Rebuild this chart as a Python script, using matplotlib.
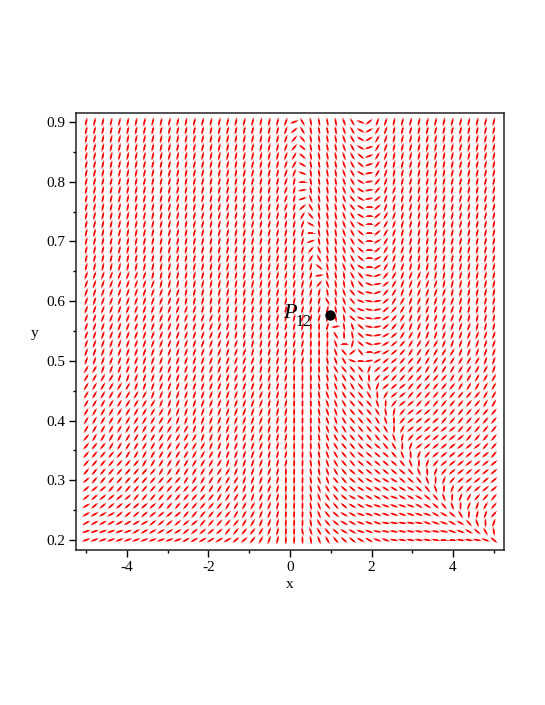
import numpy as np
import matplotlib
matplotlib.use("Agg")
import matplotlib.pyplot as plt
from matplotlib.collections import LineCollection
from matplotlib.ticker import MultipleLocator

plt.rcParams['font.family'] = ['Liberation Serif', 'DejaVu Serif']
plt.rcParams['axes.unicode_minus'] = False

# slope of each segment, one string per row, top row first
# digits rise, letters fall (see CODE_ANGLES)
ROWS = [
    "8888888888 8888888888 888872fhhh hgfb477888 8888888888",
    "8888888888 8888888888 888874fhhh hgfc367888 8888888888",
    "8888888888 8888888888 888875ehhh hgfc367888 8888888888",
    "8888888888 8888888888 888875dhhh hgfc267888 8888888888",
    "8888888888 8888888888 888876dhhh hgfd267888 8888888888",
    "8888888888 8888888888 888876chhh hgfd267888 8888888888",
    "8888888888 8888888888 888877bhhh hgfc167888 8888888888",
    "8888888888 8888888888 8888780hhh hgfc157888 8888888888",
    "8888888888 8888888888 8888781hhh hgfc157788 8888888888",
    "8888888888 8888888888 8888782ghh hgec147788 8888888888",
    "8888888888 8888888888 8888784fhh hgec047888 8888888888",
    "8888888888 8888888888 8888886ehh hgfc046788 8888888888",
    "8888888888 8888888888 8888887chh hgfc046788 8888888888",
    "8888888888 8888888888 88888880hh hgfd046788 8888888888",
    "8888888888 8888888888 88888882hh hgfd036788 8888888888",
    "8888888888 8888888888 88888885gh hgfd046778 8888888888",
    "8888888888 8888888888 88888886fh hgfd036778 8888888888",
    "8888888888 8888888888 88888888dh hgfc036778 8888888888",
    "7777777788 8888888888 888888881h hhfea25677 7788888888",
    "7777777778 8888888888 888888885g hhgeb14677 7778888888",
    "7777777777 7788888888 888888888h hgeca25677 7777888888",
    "7777777777 7788888888 888888888f hgeba14667 7777788888",
    "7777777777 7777888888 8888888888 hgdba14567 7777788888",
    "7777777777 7777778888 8888888888 hhdba13567 7777778888",
    "7777777777 7777777888 8888888998 1hgda14567 7777777888",
    "7777777777 7777777788 8888888999 fihda13466 7777777777",
    "7777777777 7777777778 8888888999 g08db13456 6667777777",
    "7777777777 7777777777 888888899i ge4e023456 6666677777",
    "7777777777 7777777777 788888899h gfb0134455 6666666677",
    "6677777777 7777777777 78888999ih feee744555 5666666667",
    "6666777777 7777777777 7888899ihh gfefi54555 5555666666",
    "6666667777 7777777777 7788899ihh gffeg74445 5555566666",
    "6666666677 7777777777 7788899ihg gfeefi6445 5555555566",
    "6666666667 7777777777 7788899ihg gfeeeg9544 5555555566",
    "6666666666 7777777777 7788899ihg gfeeefh854 4455555555",
    "6666666666 6777777777 7788899ihg gfeeefg954 4445555555",
    "6666666666 6667777777 7788899ihg ffeeeef964 4444455555",
    "5666666666 6666777777 7788899ihg feeeeeeg85 4444445555",
    "5556666666 6666677777 7788899ihg feeeddef97 4444444455",
    "5555566666 6666667777 7788899hhg feeddddegi 7544444445",
    "5555555666 6666666777 7788899hhg feedddddeg 9754444444",
    "5555555556 6666666677 7778999hhg feddddddde gi75444444",
    "4555555555 5566666667 7778999hgg eeddccccdd eg97544444",
    "4445555555 5555666667 7778999hgf eddccccccc deg9755444",
    "4444445555 5555556666 7778999hgf edcccccbcc cdeg976555",
    "3444444445 5555555666 6778999hge edccbbbbbb ccdeg97765",
    "3333444444 4455555566 6778999hge dccbbbbbbb bbccdf9875",
    "3333333344 4444555556 6778999hfe dccbbbaaaa abbbccegi7",
    "2222223333 3344444555 567899hgfe dccbbaaaaa aaaabbcdfh",
    "2222222222 2233333344 567899ihgf eddccbbaaa aaa00aaabd",
]

X_TICKS = [-4, -2, 0, 2, 4]
Y_TICKS = [0.2, 0.3, 0.4, 0.5, 0.6, 0.7, 0.8, 0.9]
POINT_X = 0.98
POINT_Y = 0.577
CODE_ANGLES = {'0': 0, '1': 10, '2': 20, '3': 30, '4': 40, '5': 50, '6': 60, '7': 70, '8': 77, '9': 88,
               'a': -10, 'b': -20, 'c': -30, 'd': -40, 'e': -50, 'f': -60, 'g': -70, 'h': -80, 'i': -88}

angles = np.array([[CODE_ANGLES[c] for c in row.replace(' ', '')] for row in ROWS], dtype=float)
xs = np.linspace(-5, 5, angles.shape[1])
ys = np.linspace(0.9, 0.2, angles.shape[0])
xx, yy = np.meshgrid(xs, ys)

W, H = 545, 705
fig = plt.figure(figsize=(W / 100, H / 100), dpi=100)
ax = fig.add_axes([76 / W, 1 - 550 / H, 428 / W, 437 / H])
ax.set_xlim(-5.25, 5.25)
ax.set_ylim(0.1832, 0.915)


def segments(length):
    # fixed pixel length whatever the aspect of the axes
    centre = ax.transData.transform(np.column_stack([xx.ravel(), yy.ravel()]))
    a = np.radians(angles.ravel())
    d = 0.5 * length * np.column_stack([np.cos(a), np.sin(a)])
    inv = ax.transData.inverted()
    return np.stack([inv.transform(centre - d), inv.transform(centre + d)], axis=1)


# pale full length stroke, stronger middle
ax.add_collection(LineCollection(segments(8.4), colors='#ff4040', linewidths=0.7, capstyle='butt', zorder=2))
ax.add_collection(LineCollection(segments(5.0), colors='#ff0000', linewidths=1.25, capstyle='butt', zorder=2))

ax.plot([POINT_X], [POINT_Y], 'o', color='black', ms=6.5, zorder=3)
ax.annotate('P', (POINT_X, POINT_Y), xytext=(-33, 1), textcoords='offset pixels', fontsize=16,
            style='italic', ha='right', va='center', zorder=4)
ax.annotate('12', (POINT_X, POINT_Y), xytext=(-18, -7), textcoords='offset pixels', fontsize=11.5,
            ha='right', va='center', zorder=4)

ax.set_xticks(X_TICKS)
ax.set_yticks(Y_TICKS)
ax.set_yticklabels([f'{t:.1f}' for t in Y_TICKS])
ax.xaxis.set_minor_locator(MultipleLocator(1))
ax.yaxis.set_minor_locator(MultipleLocator(0.05))
ax.tick_params(which='major', length=5, width=1, labelsize=11, pad=3)
ax.tick_params(which='minor', length=2.5, width=1)
for s in ax.spines.values():
    s.set_linewidth(1.1)
    s.set_color('#222222')

ax.set_xlabel('x', fontsize=11, labelpad=3)
ax.set_ylabel('y', fontsize=11, rotation=0, labelpad=8, va='center', y=0.495)

fig.savefig('out.png', dpi=100)
